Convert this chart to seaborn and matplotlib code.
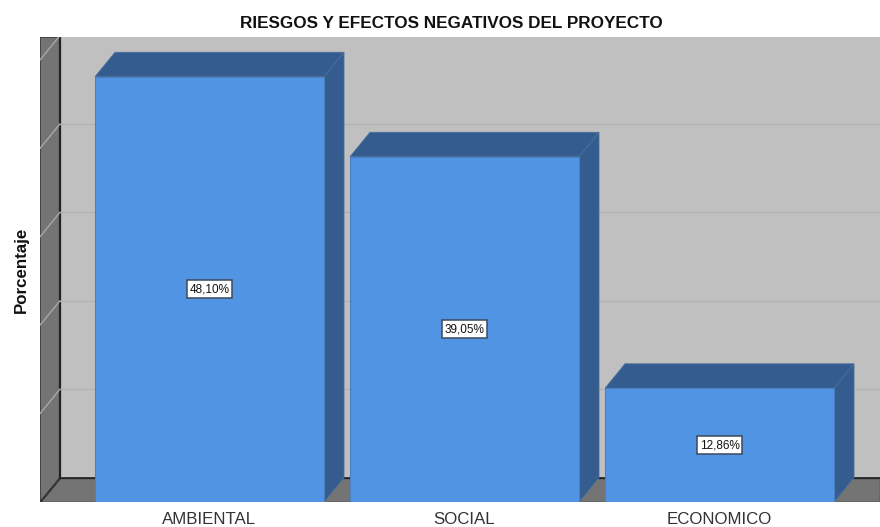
"""Riesgos y efectos negativos del proyecto: bar chart with SPSS style 3D depth."""

import matplotlib
matplotlib.use("Agg")
import matplotlib.pyplot as plt
import pandas as pd
import seaborn as sns
from matplotlib.patches import Polygon

categories = ["AMBIENTAL", "SOCIAL", "ECONOMICO"]
values = [48.10, 39.05, 12.86]
value_labels = ["48,10%", "39,05%", "12,86%"]
grid_values = [10, 20, 30, 40, 50]

FACE = "#5294e4"
DARK = "#345c8f"
WALL = "#747474"
BACK = "#c0c0c0"

sns.set_theme(style="white")
plt.rcParams["font.family"] = ["Liberation Sans", "DejaVu Sans"]

fig = plt.figure(figsize=(8.8, 5.27), dpi=100)
ax = fig.add_axes([40 / 880, 25 / 527, 840 / 880, 465 / 527])
ax.set_facecolor(BACK)

df = pd.DataFrame({"categoria": categories, "porcentaje": values})
sns.barplot(
    data=df, x="categoria", y="porcentaje", color=FACE, saturation=1,
    width=229 / 255, edgecolor="#4a7fc0", linewidth=0.8, zorder=5, ax=ax,
)

# one category is 255 px wide, one percent is 8.84 px high
ax.set_xlim(-169.5 / 255, 670.5 / 255)
ax.set_ylim(0, 465 / 8.84)
dx = 20 / 255
dy = 24.5 / 8.84
x0, x1 = ax.get_xlim()
y0, y1 = ax.get_ylim()

# walls and floor
ax.add_patch(Polygon([(x0, y0), (x0 + dx, dy), (x0 + dx, y1), (x0, y1)],
                     facecolor=WALL, edgecolor="#333333", linewidth=1, zorder=1))
ax.add_patch(Polygon([(x0, y0), (x1, y0), (x1, dy), (x0 + dx, dy)],
                     facecolor=WALL, edgecolor="#333333", linewidth=1, zorder=1))
ax.plot([x0 + dx, x0 + dx], [dy, y1], color="#222222", lw=1.6, zorder=2)
ax.plot([x0 + dx, x1], [dy, dy], color="#222222", lw=1.2, zorder=2)

# gridlines on the back wall, carried down the side wall
for g in grid_values:
    ax.plot([x0 + dx, x1], [g + dy, g + dy], color="#b2b2b2", lw=1, zorder=2)
    ax.plot([x0, x0 + dx], [g, g + dy], color="#a8a8a8", lw=1, zorder=2)

# depth faces of each bar, taken from the seaborn rectangles
for bar, label in zip(ax.patches[:len(values)], value_labels):
    left = bar.get_x()
    right = left + bar.get_width()
    top = bar.get_height()
    ax.add_patch(Polygon([(left, top), (left + dx, top + dy), (right + dx, top + dy), (right, top)],
                         facecolor=DARK, edgecolor="#4a6f9e", linewidth=0.6, zorder=4))
    ax.add_patch(Polygon([(right, 0), (right + dx, dy), (right + dx, top + dy), (right, top)],
                         facecolor=DARK, edgecolor="#4a6f9e", linewidth=0.6, zorder=4))
    ax.text((left + right) / 2, top / 2, label, ha="center", va="center",
            fontsize=8.5, color="#111111", zorder=6,
            bbox=dict(boxstyle="square,pad=0.25", facecolor="white",
                      edgecolor="#3c4a5c", linewidth=1.1))

ax.set_yticks([])
ax.set_xlabel("")
ax.set_ylabel("")
ax.tick_params(axis="x", length=0, pad=7, labelsize=12.2, labelcolor="#333333")
sns.despine(ax=ax, left=True, bottom=True, top=True, right=True)

fig.text(451 / 880, 1 - 24 / 527, "RIESGOS Y EFECTOS NEGATIVOS DEL PROYECTO",
         ha="center", va="center", fontsize=12.3, fontweight="bold", color="#111111")
fig.text(21 / 880, 1 - 270 / 527, "Porcentaje", rotation=90, ha="center", va="center",
         fontsize=12.2, fontweight="bold", color="#111111")

fig.savefig("out.png", dpi=100, facecolor="white")
